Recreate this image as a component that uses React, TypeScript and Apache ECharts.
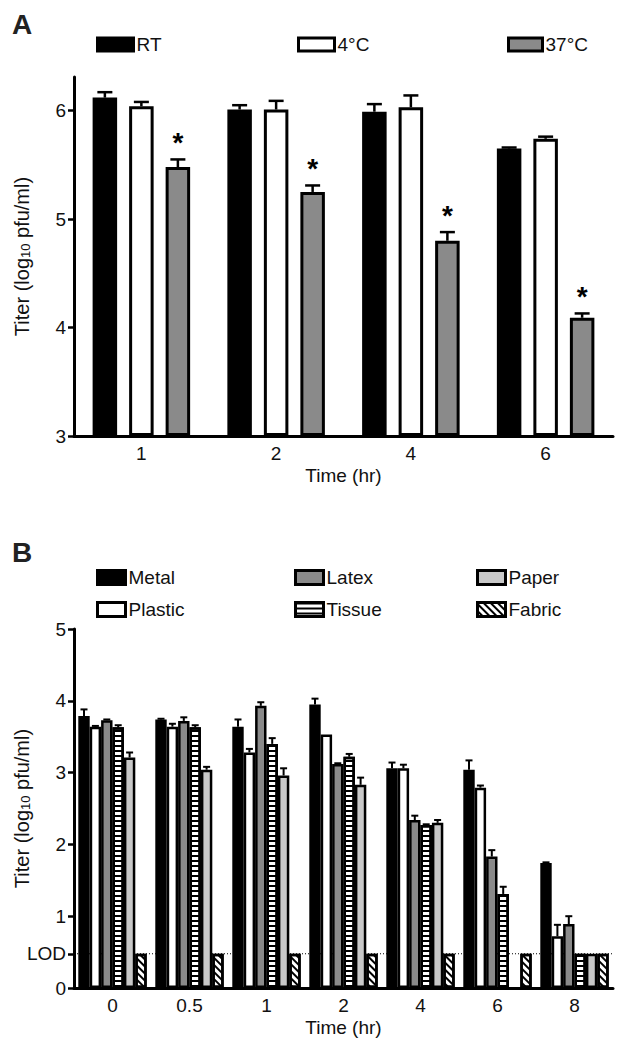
import React, { useEffect, useRef } from 'react';
import * as echarts from 'echarts';

// ---------- Panel A data ----------
const timesA = ['1', '2', '4', '6'];
const rtMean = [6.12, 6.01, 5.99, 5.65];
const rtErr = [0.05, 0.04, 0.07, 0.01];
const coldMean = [6.04, 6.01, 6.03, 5.74];
const coldErr = [0.04, 0.08, 0.11, 0.02];
const warmMean = [5.48, 5.25, 4.8, 4.09];
const warmErr = [0.07, 0.06, 0.08, 0.04];
const warmStar = [true, true, true, true];
const yTicksA = [3, 4, 5, 6];

// ---------- Panel B data ----------
const timesB = ['0', '0.5', '1', '2', '4', '6', '8'];
const LOD = 0.477;
const metalMean = [3.79, 3.74, 3.64, 3.95, 3.06, 3.04, 1.74];
const metalErr = [0.09, 0.01, 0.1, 0.08, 0.08, 0.13, 0.01];
const plasticMean = [3.64, 3.64, 3.28, 3.53, 3.06, 2.79, 0.72];
const plasticErr = [0.01, 0.04, 0.05, 0, 0.05, 0.03, 0.16];
const latexMean = [3.73, 3.72, 3.93, 3.12, 2.34, 1.83, 0.89];
const latexErr = [0.01, 0.05, 0.05, 0.01, 0.06, 0.09, 0.11];
const tissueMean = [3.63, 3.63, 3.4, 3.22, 2.27, 1.31, LOD];
const tissueErr = [0.03, 0.03, 0.08, 0.04, 0.01, 0.1, 0];
const paperMean = [3.21, 3.04, 2.96, 2.83, 2.3, null, LOD];
const paperErr = [0.07, 0.04, 0.1, 0.1, 0.04, 0, 0];
const fabricMean = [LOD, LOD, LOD, LOD, LOD, LOD, LOD];
const fabricErr = [0, 0, 0, 0, 0, 0, 0];
const yTicksB = [0, LOD, 1, 2, 3, 4, 5];

const FONT = 'Liberation Sans, Arial, Helvetica, sans-serif';
const TXT = '#111';

const stripeDecal = {
  symbol: 'rect',
  symbolSize: 1,
  color: '#000',
  dashArrayX: [1, 0],
  dashArrayY: [1.2, 2.8],
  rotation: 0,
};
const hatchDecal = {
  symbol: 'rect',
  symbolSize: 1,
  color: '#000',
  dashArrayX: [1, 0],
  dashArrayY: [1.4, 2.4],
  rotation: Math.PI / 4,
};

function errSeries(
  name: string,
  gridIdx: number,
  means: (number | null)[],
  errs: number[],
  idx: number,
  n: number,
  spacing: number,
  capW: number,
  lw: number,
  stars?: boolean[]
) {
  const data = means.map((m, i) => [i, m === null ? '-' : m, errs[i], stars && stars[i] ? 1 : 0]);
  return {
    type: 'custom',
    name: name + ' err',
    xAxisIndex: gridIdx,
    yAxisIndex: gridIdx,
    z: 3,
    encode: { x: 0, y: 1 },
    data,
    renderItem: (params: any, api: any) => {
      const ci = api.value(0);
      const v = api.value(1);
      const e = api.value(2);
      const star = api.value(3);
      if (v === '-' || v === null || isNaN(v)) return { type: 'group', children: [] };
      const base = api.coord([ci, v]);
      const top = api.coord([ci, v + e]);
      const x = base[0] + (idx - (n - 1) / 2) * spacing;
      const children: any[] = [];
      if (e > 0) {
        children.push({
          type: 'line',
          shape: { x1: x, y1: base[1], x2: x, y2: top[1] },
          style: { stroke: '#000', lineWidth: lw },
        });
        children.push({
          type: 'line',
          shape: { x1: x - capW / 2, y1: top[1], x2: x + capW / 2, y2: top[1] },
          style: { stroke: '#000', lineWidth: lw },
        });
      }
      if (star) {
        children.push({
          type: 'text',
          style: {
            text: '*',
            x: x,
            y: top[1] - 3,
            align: 'center',
            verticalAlign: 'bottom',
            fontSize: 28,
            fontWeight: 'bold',
            fontFamily: FONT,
            fill: '#000',
          },
        });
      }
      return { type: 'group', children };
    },
  };
}

export default function App() {
  const ref = useRef<HTMLDivElement>(null);
  useEffect(() => {
    document.body.style.margin = '0';
    if (!ref.current) return;
    const chart = echarts.init(ref.current, null, { renderer: 'svg' });

    const barWA = 24.5;
    const gapA = 0.49;
    const spacingA = barWA * (1 + gapA);
    const barWB = 11.4;
    const spacingB = barWB;

    const axisLine = { show: true, onZero: false, lineStyle: { color: '#000', width: 3 } };
    const labelStyle = { fontSize: 19, color: TXT, fontFamily: FONT };
    const yName = {
      name: 'Titer (log{sub|10} pfu/ml)',
      nameLocation: 'middle',
      nameRotate: 90,
      nameGap: 42,
      nameMoveOverlap: false,
      nameTextStyle: {
        fontSize: 20,
        color: TXT,
        fontFamily: FONT,
        rich: { sub: { fontSize: 13, color: TXT, fontFamily: FONT, verticalAlign: 'bottom', padding: [7, 0, 0, 0] } },
      },
    };

    const barA = (name: string, data: number[], color: string) => ({
      type: 'bar',
      name,
      xAxisIndex: 0,
      yAxisIndex: 0,
      data,
      barWidth: barWA,
      barGap: gapA * 100 + '%',
      clip: true,
      z: 2,
      itemStyle: { color, borderColor: '#000', borderWidth: 3 },
    });
    const barB = (name: string, data: (number | null)[], color: string, decal?: any) => ({
      type: 'bar',
      name,
      xAxisIndex: 1,
      yAxisIndex: 1,
      data: data.map((d) => (d === null ? '-' : d)),
      barWidth: barWB,
      barGap: '0%',
      clip: true,
      z: 2,
      itemStyle: { color, borderColor: '#000', borderWidth: 2.5, decal },
    });

    const legendItem = (name: string, left: number, top: number, w: number, h: number) => ({
      data: [name],
      left,
      top,
      padding: 0,
      icon: 'rect',
      itemWidth: w,
      itemHeight: h,
      selectedMode: false,
      itemStyle: { borderColor: '#000', borderWidth: 3 },
      textStyle: { fontSize: 19, color: TXT, fontFamily: FONT, padding: [0, 0, 0, -2] },
    });

    chart.setOption({
      animation: false,
      textStyle: { fontFamily: FONT },
      graphic: [
        { type: 'text', left: 12, top: 10, style: { text: 'A', fontSize: 28, fontWeight: 'bold', fontFamily: FONT, fill: '#222' } },
        { type: 'text', left: 12, top: 538, style: { text: 'B', fontSize: 28, fontWeight: 'bold', fontFamily: FONT, fill: '#222' } },
      ],
      legend: [
        legendItem('RT', 96, 35, 36, 13),
        legendItem('4°C', 297, 35, 36, 13),
        legendItem('37°C', 507, 35, 34, 13),
        legendItem('Metal', 96, 568, 28, 14),
        legendItem('Latex', 294, 568, 28, 14),
        legendItem('Paper', 476, 568, 28, 14),
        legendItem('Plastic', 96, 600, 28, 14),
        legendItem('Tissue', 294, 600, 28, 14),
        legendItem('Fabric', 476, 600, 28, 14),
      ],
      grid: [
        { left: 74, right: 7, top: 77, height: 359, outerBoundsMode: 'none' },
        { left: 74, right: 7, top: 629, height: 359, outerBoundsMode: 'none' },
      ],
      xAxis: [
        {
          type: 'category',
          gridIndex: 0,
          data: timesA,
          axisLine,
          axisTick: { show: false },
          axisLabel: { ...labelStyle, margin: 8 },
          name: 'Time (hr)',
          nameLocation: 'middle',
          nameGap: 30,
          nameMoveOverlap: false,
          nameTextStyle: labelStyle,
        },
        {
          type: 'category',
          gridIndex: 1,
          data: timesB,
          axisLine,
          axisTick: { show: false },
          axisLabel: { ...labelStyle, margin: 8 },
          name: 'Time (hr)',
          nameLocation: 'middle',
          nameGap: 30,
          nameMoveOverlap: false,
          nameTextStyle: labelStyle,
        },
      ],
      yAxis: [
        {
          type: 'value',
          gridIndex: 0,
          min: 3,
          max: 6.31,
          startValue: 3,
          axisLine,
          axisTick: { show: true, length: 6, lineStyle: { color: '#000', width: 2.5 }, customValues: yTicksA },
          axisLabel: { ...labelStyle, margin: 8, customValues: yTicksA },
          splitLine: { show: false },
          ...yName,
        },
        {
          type: 'value',
          gridIndex: 1,
          min: 0,
          max: 5,
          axisLine,
          axisTick: { show: true, length: 6, lineStyle: { color: '#000', width: 2.5 }, customValues: yTicksB },
          axisLabel: {
            ...labelStyle,
            margin: 8,
            customValues: yTicksB,
            formatter: (v: number) => (Math.abs(v - LOD) < 0.01 ? 'LOD' : String(Math.round(v))),
          },
          splitLine: { show: false },
          ...yName,
        },
      ],
      series: [
        {
          type: 'custom',
          name: 'LOD line',
          xAxisIndex: 1,
          yAxisIndex: 1,
          z: 1,
          data: [[0, LOD]],
          encode: { x: 0, y: 1 },
          renderItem: (params: any, api: any) => {
            const cs = params.coordSys;
            const y = api.coord([0, api.value(1)])[1];
            return {
              type: 'line',
              shape: { x1: cs.x, y1: y, x2: cs.x + cs.width, y2: y },
              style: { stroke: '#000', lineWidth: 1, lineDash: [1, 2] },
            };
          },
        },
        barA('RT', rtMean, '#000'),
        barA('4°C', coldMean, '#fff'),
        barA('37°C', warmMean, '#8a8a8a'),
        errSeries('RT', 0, rtMean, rtErr, 0, 3, spacingA, 15, 2.5),
        errSeries('4°C', 0, coldMean, coldErr, 1, 3, spacingA, 15, 2.5),
        errSeries('37°C', 0, warmMean, warmErr, 2, 3, spacingA, 15, 2.5, warmStar),
        barB('Metal', metalMean, '#000'),
        barB('Plastic', plasticMean, '#fff'),
        barB('Latex', latexMean, '#8a8a8a'),
        barB('Tissue', tissueMean, '#fff', stripeDecal),
        barB('Paper', paperMean, '#c8c8c8'),
        barB('Fabric', fabricMean, '#fff', hatchDecal),
        errSeries('Metal', 1, metalMean, metalErr, 0, 6, spacingB, 7, 2),
        errSeries('Plastic', 1, plasticMean, plasticErr, 1, 6, spacingB, 7, 2),
        errSeries('Latex', 1, latexMean, latexErr, 2, 6, spacingB, 7, 2),
        errSeries('Tissue', 1, tissueMean, tissueErr, 3, 6, spacingB, 7, 2),
        errSeries('Paper', 1, paperMean, paperErr, 4, 6, spacingB, 7, 2),
        errSeries('Fabric', 1, fabricMean, fabricErr, 5, 6, spacingB, 7, 2),
      ],
    });
    return () => chart.dispose();
  }, []);
  return <div ref={ref} style={{ width: 620, height: 1050 }} />;
}
